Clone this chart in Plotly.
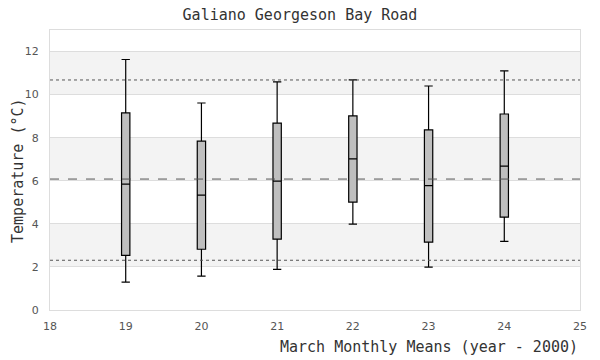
import plotly.graph_objects as go

years = [19, 20, 21, 22, 23, 24]
upper = [11.63, 9.61, 10.59, 10.68, 10.40, 11.10]
q3 = [9.15, 7.84, 8.68, 9.01, 8.36, 9.10]
median = [5.84, 5.33, 5.98, 7.02, 5.77, 6.68]
q1 = [2.54, 2.82, 3.29, 5.01, 3.15, 4.31]
lower = [1.29, 1.57, 1.89, 3.99, 1.99, 3.19]
ref_lines = [10.68, 6.08, 2.31]
ref_dash = ["dot", "dash", "dot"]
bands = [(2, 4), (6, 8), (10, 12)]

fig = go.Figure()
fig.add_trace(go.Box(
    x=years, q1=q1, median=median, q3=q3, lowerfence=lower, upperfence=upper,
    width=0.11, whiskerwidth=1, fillcolor="#bfbfbf",
    line=dict(color="black", width=1.2), showlegend=False, hoverinfo="skip",
))

shapes = []
for lo, hi in bands:
    shapes.append(dict(type="rect", xref="paper", yref="y", x0=0, x1=1, y0=lo, y1=hi,
                       fillcolor="#f3f3f3", line=dict(width=0), layer="below"))
for v, d in zip(ref_lines, ref_dash):
    shapes.append(dict(type="line", xref="paper", yref="y", x0=0, x1=1, y0=v, y1=v,
                       line=dict(color="#555555", width=1, dash=d), layer="above"))

mono = "DejaVu Sans Mono, monospace"
tickfont = dict(family="DejaVu Sans, sans-serif", size=11, color="#555555")
titlefont = dict(family=mono, size=15, color="#333333")
fig.update_layout(
    width=600, height=360,
    margin=dict(l=50, r=20, t=30, b=50),
    paper_bgcolor="white", plot_bgcolor="white",
    shapes=shapes,
    title=dict(text="Galiano Georgeson Bay Road", x=0.5, xanchor="center", y=0.96, yanchor="middle",
               font=titlefont),
    xaxis=dict(range=[18, 25], tickmode="array", tickvals=list(range(18, 26)), automargin=False,
               showgrid=False, zeroline=False, showline=True, linecolor="#dddddd", mirror=True,
               tickfont=tickfont, ticks="", ticklabelstandoff=6),
    yaxis=dict(range=[0, 13], tickvals=[0, 2, 4, 6, 8, 10, 12], showgrid=True, gridcolor="#dddddd",
               zeroline=False, showline=True, linecolor="#dddddd", mirror=True, automargin=False,
               tickfont=tickfont, ticks="", ticklabelstandoff=8),
    annotations=[
        dict(text="March Monthly Means (year - 2000)", xref="paper", yref="paper",
             x=1, y=-0.132, xanchor="right", yanchor="middle", showarrow=False, font=titlefont),
        dict(text="Temperature (°C)", xref="paper", yref="paper", x=-0.0604, y=0.5,
             xanchor="center", yanchor="middle", textangle=-90, showarrow=False, font=titlefont),
    ],
)
fig.write_html("out.html", config={"displayModeBar": False}, post_script="document.body.style.margin='0';")
